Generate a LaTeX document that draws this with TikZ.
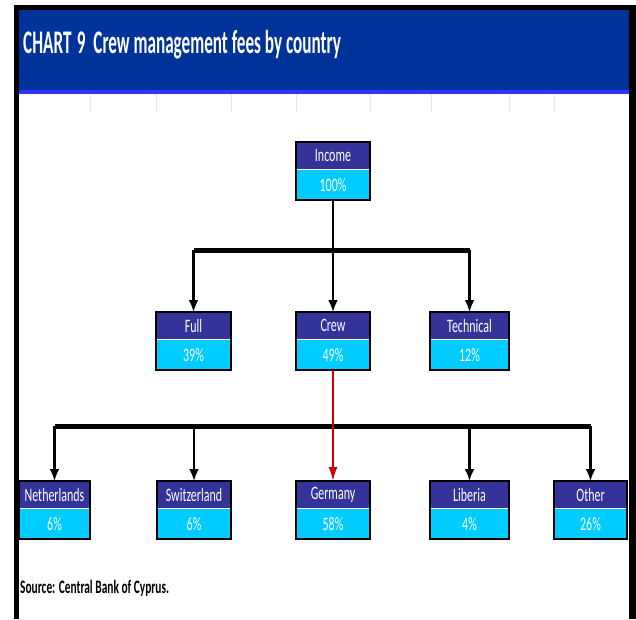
\documentclass[tikz,border=0pt]{standalone}
\usepackage{fontspec}
\setmainfont{Carlito}
\newfontfamily\boxfont{Carlito}[FakeStretch=0.63]
\newfontfamily\titlefont{Carlito}[FakeStretch=0.52]
\newfontfamily\srcfont{Carlito}[FakeStretch=0.6]
\usetikzlibrary{arrows.meta}

\definecolor{hdrblue}{HTML}{003399}
\definecolor{hdrstrip}{HTML}{3333FF}
\definecolor{boxtop}{HTML}{333399}
\definecolor{boxbot}{HTML}{00CCFF}
\definecolor{gridgray}{HTML}{E2E6F0}
\definecolor{crewred}{HTML}{CC0000}

\tikzset{
	boxlabel/.style={fill=boxtop, text=white, inner sep=0pt, anchor=north,
		minimum height=27pt, font=\boxfont\fontsize{19}{19}\selectfont},
	boxvalue/.style={fill=boxbot, text=white, inner sep=0pt, anchor=north,
		minimum height=30pt, font=\boxfont\fontsize{19}{19}\selectfont},
	feeline/.style={line width=2.5pt},
	feebar/.style={line width=5pt},
	feearrow/.style={line width=2.5pt, -{Latex[length=12pt,width=10pt]}}
}

% name, centre x, top y, width, label, value
\newcommand{\feebox}[6]{%
	\node[boxlabel, minimum width=#4pt] (#1) at (#2,#3) {#5};
	\node[boxvalue, minimum width=#4pt] (#1-v) at (#1.south) {#6};
	\draw[line width=2pt] (#1.north west) rectangle (#1-v.south east);
}

\begin{document}
\begin{tikzpicture}[x=1pt, y=-1pt]

	\useasboundingbox (0,0) rectangle (636,619);

	% frame and header
	\fill[black] (14,5) rectangle (636,619);
	\fill[white] (19,10) rectangle (629,619);
	\fill[hdrblue] (19,10) rectangle (629,90);
	\fill[hdrstrip] (19,90) rectangle (629,94);
	\foreach \gx in {90,156,231,296,370,431,509,554}
		\draw[gridgray] (\gx,94) -- (\gx,112);
	\node[anchor=base west, text=white, inner sep=0pt,
		font=\titlefont\bfseries\fontsize{33}{33}\selectfont] (title) at (23,53)
		{CHART\,9\ \ Crew management fees by country};

	% boxes
	\feebox{income}{333}{142}{74}{Income}{100\%}

	\feebox{full}{193.5}{312}{75}{Full}{39\%}
	\feebox{crew}{333}{312}{74}{Crew}{49\%}
	\feebox{tech}{469.5}{312}{79}{Technical}{12\%}

	\feebox{ned}{54.5}{481}{71}{Netherlands}{6\%}
	\feebox{swi}{194}{481}{74}{Switzerland}{6\%}
	\feebox{ger}{333}{481}{74}{Germany}{58\%}
	\feebox{lib}{469.5}{481}{79}{Liberia}{4\%}
	\feebox{oth}{590.5}{481}{73}{Other}{26\%}

	% connectors
	\coordinate (split1) at (333,250);
	\draw[feeline] (income-v.south) -- (split1);
	\draw[feebar] (full.north |- split1) -- (tech.north |- split1);
	\foreach \n in {full,crew,tech}
		\draw[feearrow] (\n.north |- split1) -- (\n.north);

	\coordinate (split2) at (333,426);
	\draw[feebar] (ned.north |- split2) -- (oth.north |- split2);
	\foreach \n in {ned,swi,lib,oth}
		\draw[feearrow] (\n.north |- split2) -- (\n.north);
	\draw[crewred, line width=2pt, -{Latex[length=14pt,width=9pt]}] (crew-v.south) -- (ger.north);

	% source
	\node[anchor=base west, inner sep=0pt,
		font=\srcfont\bfseries\fontsize{19}{19}\selectfont] (source) at (20,593)
		{Source: Central Bank of Cyprus.};

\end{tikzpicture}
\end{document}
